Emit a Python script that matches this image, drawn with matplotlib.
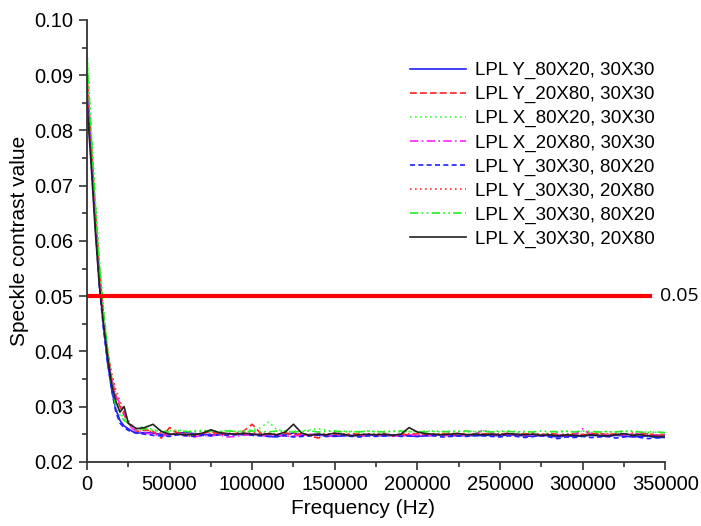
import matplotlib
matplotlib.use("Agg")
import matplotlib.pyplot as plt
from matplotlib.ticker import MultipleLocator

plt.rcParams['font.family'] = ['Liberation Sans', 'DejaVu Sans']

# frequency grid: 2500 Hz steps up to 30 kHz, then 5 kHz steps
freq_early = [0, 2500, 5000, 7500, 10000, 12500, 15000, 17500, 20000, 22500, 25000, 27500, 30000]
freq_late = list(range(35000, 350001, 5000))
freq = freq_early + freq_late

labels = ['LPL Y_80X20, 30X30', 'LPL Y_20X80, 30X30', 'LPL X_80X20, 30X30', 'LPL X_20X80, 30X30',
          'LPL Y_30X30, 80X20', 'LPL Y_30X30, 20X80', 'LPL X_30X30, 80X20', 'LPL X_30X30, 20X80']

y_80x20_y = [0.088, 0.077, 0.064, 0.053, 0.045, 0.038, 0.033, 0.0295, 0.0275, 0.0265, 0.026, 0.0255, 0.0252,
             0.0253, 0.0252, 0.0250, 0.0249, 0.0252, 0.0253, 0.0251, 0.0250, 0.0249, 0.0250, 0.0251, 0.0250, 0.0249, 0.0250,
             0.0249, 0.0246, 0.0245, 0.0250, 0.0252, 0.0248, 0.0249, 0.0250, 0.0247, 0.0246, 0.0247, 0.0248, 0.0247, 0.0248,
             0.0248, 0.0247, 0.0248, 0.0249, 0.0247, 0.0246, 0.0247, 0.0248, 0.0249, 0.0248, 0.0247, 0.0248, 0.0247, 0.0248,
             0.0248, 0.0247, 0.0249, 0.0248, 0.0247, 0.0246, 0.0248, 0.0247, 0.0245, 0.0247, 0.0246, 0.0247, 0.0248, 0.0247,
             0.0246, 0.0248, 0.0247, 0.0245, 0.0246, 0.0247, 0.0243, 0.0245]
y_20x80_y = [0.090, 0.078, 0.066, 0.055, 0.047, 0.040, 0.035, 0.032, 0.030, 0.0285, 0.027, 0.0262, 0.0255,
             0.0258, 0.0255, 0.0243, 0.0262, 0.0252, 0.0250, 0.0248, 0.0252, 0.0255, 0.0250, 0.0249, 0.0251, 0.0256, 0.0268,
             0.0252, 0.0250, 0.0249, 0.0253, 0.0248, 0.0251, 0.0247, 0.0243, 0.0249, 0.0250, 0.0248, 0.0251, 0.0250, 0.0248,
             0.0249, 0.0251, 0.0246, 0.0250, 0.0249, 0.0251, 0.0250, 0.0249, 0.0251, 0.0250, 0.0252, 0.0249, 0.0250, 0.0251,
             0.0249, 0.0250, 0.0252, 0.0249, 0.0251, 0.0250, 0.0249, 0.0251, 0.0250, 0.0247, 0.0251, 0.0249, 0.0250, 0.0252,
             0.0249, 0.0251, 0.0250, 0.0248, 0.0252, 0.0250, 0.0248, 0.0249]
x_80x20_x = [0.095, 0.081, 0.068, 0.057, 0.048, 0.041, 0.035, 0.031, 0.029, 0.0278, 0.027, 0.0265, 0.026,
             0.0265, 0.0258, 0.0257, 0.0256, 0.0258, 0.0255, 0.0256, 0.0257, 0.0256, 0.0255, 0.0257, 0.0255, 0.0256, 0.0258,
             0.0262, 0.0272, 0.0258, 0.0256, 0.0255, 0.0256, 0.0258, 0.0260, 0.0257, 0.0255, 0.0256, 0.0254, 0.0255, 0.0256,
             0.0254, 0.0255, 0.0256, 0.0254, 0.0255, 0.0254, 0.0256, 0.0255, 0.0254, 0.0256, 0.0255, 0.0254, 0.0255, 0.0256,
             0.0255, 0.0254, 0.0256, 0.0255, 0.0253, 0.0255, 0.0247, 0.0254, 0.0255, 0.0256, 0.0254, 0.0255, 0.0253, 0.0254,
             0.0255, 0.0253, 0.0254, 0.0256, 0.0252, 0.0255, 0.0253, 0.0252]
x_20x80_x = [0.089, 0.076, 0.064, 0.053, 0.045, 0.039, 0.035, 0.032, 0.0305, 0.029, 0.027, 0.026, 0.0255,
             0.0252, 0.0250, 0.0247, 0.0249, 0.0251, 0.0247, 0.0245, 0.0248, 0.0247, 0.0249, 0.0245, 0.0246, 0.0248, 0.0250,
             0.0248, 0.0247, 0.0249, 0.0246, 0.0247, 0.0248, 0.0250, 0.0248, 0.0246, 0.0247, 0.0249, 0.0248, 0.0247, 0.0248,
             0.0249, 0.0247, 0.0248, 0.0246, 0.0249, 0.0248, 0.0247, 0.0249, 0.0248, 0.0247, 0.0249, 0.0248, 0.0250, 0.0258,
             0.0251, 0.0248, 0.0249, 0.0250, 0.0248, 0.0249, 0.0247, 0.0249, 0.0248, 0.0250, 0.0249, 0.0260, 0.0250, 0.0249,
             0.0248, 0.0250, 0.0249, 0.0251, 0.0250, 0.0249, 0.0248, 0.0250]
y_30x30_80x20 = [0.087, 0.075, 0.063, 0.052, 0.044, 0.038, 0.033, 0.029, 0.027, 0.0262, 0.0257, 0.0254, 0.0252,
                 0.0250, 0.0248, 0.0247, 0.0246, 0.0249, 0.0247, 0.0246, 0.0248, 0.0247, 0.0249, 0.0248, 0.0249, 0.0250, 0.0248,
                 0.0247, 0.0246, 0.0248, 0.0247, 0.0245, 0.0246, 0.0247, 0.0248, 0.0246, 0.0247, 0.0248, 0.0246, 0.0245, 0.0247,
                 0.0246, 0.0247, 0.0248, 0.0246, 0.0247, 0.0246, 0.0248, 0.0247, 0.0245, 0.0246, 0.0247, 0.0246, 0.0248, 0.0247,
                 0.0246, 0.0245, 0.0247, 0.0246, 0.0244, 0.0246, 0.0247, 0.0245, 0.0242, 0.0245, 0.0244, 0.0246, 0.0244, 0.0245,
                 0.0246, 0.0243, 0.0245, 0.0247, 0.0244, 0.0242, 0.0245, 0.0244]
y_30x30_20x80 = [0.091, 0.078, 0.066, 0.055, 0.046, 0.040, 0.036, 0.033, 0.031, 0.029, 0.0275, 0.0265, 0.026,
                 0.0257, 0.0254, 0.0252, 0.0250, 0.0253, 0.0251, 0.0250, 0.0252, 0.0251, 0.0250, 0.0252, 0.0251, 0.0250, 0.0253,
                 0.0251, 0.0252, 0.0250, 0.0251, 0.0252, 0.0250, 0.0249, 0.0251, 0.0250, 0.0252, 0.0251, 0.0249, 0.0250, 0.0251,
                 0.0250, 0.0251, 0.0249, 0.0250, 0.0251, 0.0250, 0.0249, 0.0251, 0.0250, 0.0252, 0.0250, 0.0249, 0.0251, 0.0250,
                 0.0252, 0.0250, 0.0251, 0.0249, 0.0250, 0.0252, 0.0250, 0.0251, 0.0249, 0.0250, 0.0251, 0.0250, 0.0252, 0.0250,
                 0.0251, 0.0249, 0.0250, 0.0252, 0.0250, 0.0251, 0.0249, 0.0250]
x_30x30_80x20 = [0.094, 0.080, 0.067, 0.056, 0.047, 0.040, 0.034, 0.030, 0.0285, 0.0275, 0.027, 0.0263, 0.0258,
                 0.0260, 0.0257, 0.0255, 0.0254, 0.0256, 0.0255, 0.0254, 0.0256, 0.0255, 0.0254, 0.0256, 0.0255, 0.0254, 0.0256,
                 0.0255, 0.0254, 0.0256, 0.0255, 0.0254, 0.0255, 0.0256, 0.0254, 0.0255, 0.0256, 0.0254, 0.0255, 0.0254, 0.0256,
                 0.0255, 0.0254, 0.0255, 0.0256, 0.0254, 0.0255, 0.0254, 0.0256, 0.0255, 0.0254, 0.0255, 0.0256, 0.0254, 0.0255,
                 0.0254, 0.0256, 0.0255, 0.0254, 0.0255, 0.0254, 0.0256, 0.0255, 0.0254, 0.0255, 0.0254, 0.0256, 0.0255, 0.0254,
                 0.0255, 0.0254, 0.0256, 0.0255, 0.0254, 0.0253, 0.0254, 0.0253]
x_30x30_20x80 = [0.085, 0.074, 0.062, 0.052, 0.045, 0.039, 0.034, 0.031, 0.029, 0.030, 0.027, 0.0265, 0.026,
                 0.0262, 0.0268, 0.0255, 0.0250, 0.0250, 0.0249, 0.0249, 0.0252, 0.0258, 0.0253, 0.0251, 0.0250, 0.0252, 0.0250,
                 0.0249, 0.0251, 0.0249, 0.0254, 0.0268, 0.0252, 0.0248, 0.0250, 0.0249, 0.0252, 0.0250, 0.0247, 0.0249, 0.0250,
                 0.0249, 0.0250, 0.0248, 0.0250, 0.0262, 0.0254, 0.0251, 0.0250, 0.0249, 0.0250, 0.0251, 0.0249, 0.0250, 0.0249,
                 0.0250, 0.0249, 0.0251, 0.0250, 0.0249, 0.0250, 0.0248, 0.0249, 0.0247, 0.0249, 0.0248, 0.0247, 0.0249, 0.0248,
                 0.0247, 0.0249, 0.0251, 0.0248, 0.0249, 0.0247, 0.0246, 0.0246]

series = [y_80x20_y, y_20x80_y, x_80x20_x, x_20x80_x, y_30x30_80x20, y_30x30_20x80, x_30x30_80x20, x_30x30_20x80]
colors = ['#2020ff', '#ff2020', '#33ff33', '#ff20ff', '#2020ff', '#ff3030', '#22ee22', '#222222']
styles = ['-', (0, (4, 2)), (0, (1, 2)), (0, (5, 2, 1, 2)), (0, (3, 2)), (0, (1, 2)), (0, (5, 2, 1, 2, 1, 2)), '-']

threshold = 0.05
threshold_end = 341000

fig = plt.figure(figsize=(7.01, 5.26), dpi=100)
ax = fig.add_axes([0.124, 0.122, 0.825, 0.84])

for vals, lab, c, ls in zip(series, labels, colors, styles):
    ax.plot(freq, vals, color=c, linestyle=ls, lw=1.2, label=lab)

ax.plot([0, threshold_end], [threshold, threshold], color='#ff0000', lw=3)
ax.text(347000, threshold, '0.05', fontsize=14, family='Open Sans', va='center', ha='left', clip_on=False)

ax.set_xlim(0, 350000)
ax.set_ylim(0.02, 0.10)
ax.xaxis.set_major_locator(MultipleLocator(50000))
ax.xaxis.set_minor_locator(MultipleLocator(25000))
ax.yaxis.set_major_locator(MultipleLocator(0.01))
ax.yaxis.set_minor_locator(MultipleLocator(0.005))
ax.yaxis.set_major_formatter(plt.FormatStrFormatter('%.2f'))

for s in ['top', 'right']:
    ax.spines[s].set_visible(False)
for s in ['left', 'bottom']:
    ax.spines[s].set_linewidth(1.3)
    ax.spines[s].set_color('#333333')
ax.tick_params(which='major', length=6, width=1.2, color='#333333', labelsize=14.5)
ax.tick_params(which='minor', length=3.5, width=1.2, color='#333333')

ax.set_xlabel('Frequency (Hz)', fontsize=15, labelpad=6)
ax.set_ylabel('Speckle contrast value', fontsize=15, labelpad=4)
ax.xaxis.set_label_coords(0.477, -0.085)

ax.legend(loc='upper left', bbox_to_anchor=(0.529, 0.943), frameon=False, fontsize=13.5,
          handlelength=3.0, labelspacing=0.36, handletextpad=0.5)

fig.savefig('out.png', dpi=100)
